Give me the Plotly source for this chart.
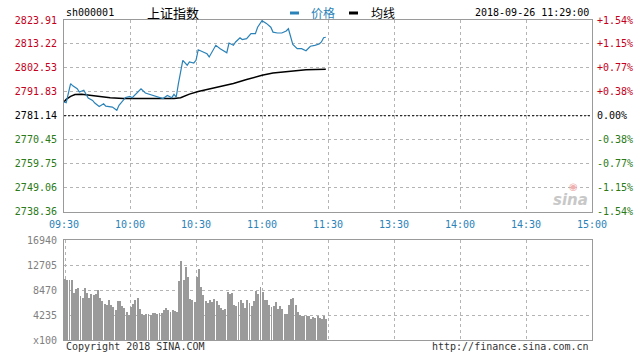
import plotly.graph_objects as go

# ---------------- data ----------------
prev_close = 2781.14

price_min = [0, 1, 3, 4, 6, 7, 9, 10, 11, 13, 14, 16, 18, 19, 22, 24, 25, 28, 30, 31,
             33, 35, 37, 39, 41, 44, 45, 47, 49, 50, 51, 52, 53, 54, 56, 57, 59, 60, 61, 63,
             65, 66, 68, 69, 71, 72, 74, 75, 77, 78, 80, 81, 83, 85, 87, 88, 90, 92, 94, 95,
             97, 99, 101, 102, 104, 106, 108, 110, 112, 114, 116, 117, 118, 119]
price_val = [2787.3, 2787.0, 2795.5, 2794.5, 2793.2, 2791.7, 2792.5, 2791.0, 2789.0, 2788.0,
             2786.8, 2785.3, 2786.5, 2785.4, 2785.0, 2783.6, 2785.8, 2789.3, 2789.8, 2789.2,
             2791.0, 2793.2, 2791.3, 2790.7, 2790.2, 2789.2, 2788.8, 2790.2, 2789.2, 2790.7,
             2789.5, 2795.5, 2801.4, 2805.9, 2803.7, 2805.2, 2804.7, 2805.9, 2810.6, 2809.6,
             2808.8, 2807.4, 2811.1, 2812.6, 2811.1, 2810.4, 2809.3, 2813.6, 2812.6, 2814.1,
             2816.0, 2815.2, 2815.6, 2817.8, 2817.8, 2820.7, 2823.6, 2822.4, 2820.7, 2818.5,
             2818.1, 2818.1, 2819.0, 2820.0, 2813.0, 2811.1, 2811.1, 2810.2, 2812.2, 2812.6,
             2813.2, 2814.1, 2816.0, 2816.2]

avg_min = [0, 1, 3, 5, 8, 13, 21, 27, 34, 43, 50, 53, 57, 61, 70, 77, 83, 90, 95, 103, 110, 119]
avg_val = [2787.3, 2788.5, 2789.8, 2790.6, 2790.7, 2790.1, 2789.2, 2788.8, 2788.8, 2788.6,
           2788.8, 2789.2, 2790.8, 2792.0, 2794.0, 2795.5, 2797.3, 2799.2, 2800.2, 2801.1,
           2801.7, 2801.9]

volume = [10400, 10200, 10100, 10200, 8000, 8600, 8800, 7400, 7200, 8800,
          8000, 7200, 7800, 7600, 7800, 8400, 7200, 6600, 6100, 5900,
          6800, 6000, 5600, 5000, 6600, 6600, 5800, 5500, 4700, 4300,
          5600, 6100, 6800, 7200, 5300, 4400, 4200, 4400, 4400, 4200,
          4600, 4500, 4400, 4600, 4500, 5100, 5500, 5000, 4800, 5100,
          4900, 4700, 10000, 13300, 10200, 12300, 10600, 7000, 6800, 6500,
          10600, 12000, 9000, 7700, 6600, 6200, 6700, 6400, 6900, 6600,
          6000, 5400, 5000, 5200, 8200, 7800, 7900, 6000, 5700, 6500,
          6800, 6300, 5400, 6800, 6300, 5700, 6600, 8300, 7800, 8900,
          8200, 6800, 6800, 6000, 5600, 5800, 6400, 5300, 5800, 5200,
          4400, 4400, 6000, 6900, 7100, 6000, 4700, 4200, 4100, 4100,
          4100, 4000, 3600, 3900, 3700, 4000, 3800, 3600, 4000, 3500]
vol_min = list(range(len(volume)))

price_ticks = [2738.36, 2749.06, 2759.75, 2770.45, 2781.14, 2791.83, 2802.53, 2813.22, 2823.91]
price_labels = ["2738.36", "2749.06", "2759.75", "2770.45", "2781.14", "2791.83", "2802.53", "2813.22", "2823.91"]
pct_labels = ["-1.54%", "-1.15%", "-0.77%", "-0.38%", "0.00%", "+0.38%", "+0.77%", "+1.15%", "+1.54%"]
time_ticks = [0, 30, 60, 90, 120, 150, 180, 210, 240]
time_labels = ["09:30", "10:00", "10:30", "11:00", "11:30", "13:30", "14:00", "14:30", "15:00"]
vol_ticks = [0, 4235, 8470, 12705, 16940]
vol_labels = ["x100", "4235", "8470", "12705", "16940"]

# ---------------- style ----------------
RED = "#c4001a"
GREEN = "#2a7a16"
BLUE = "#2a82b8"
GRID = "#b4b4b4"
FRAME = "#9a9a9a"
MONO = "DejaVu Sans Mono"
CJK = "Noto Sans CJK SC"

W, H = 644, 360
L, R, T, B = 64, 52, 20, 20
PW, PH = W - L - R, H - T - B


def px(x):
    return (x - L) / PW


def py(y):
    return (H - B - y) / PH


def colored(labels, ticks):
    out = []
    for lab, v in zip(labels, ticks):
        c = RED if v > prev_close + 1e-6 else (GREEN if v < prev_close - 1e-6 else "#000000")
        out.append(f'<span style="color:{c}">{lab}</span>')
    return out


top_bottom = py(211.5)
vol_top = py(240)

fig = go.Figure()

fig.add_trace(go.Bar(x=vol_min, y=volume, width=0.42, marker=dict(color="#9a9a9a", line=dict(width=0)),
                     xaxis="x2", yaxis="y2", showlegend=False, hoverinfo="skip"))
fig.add_trace(go.Scatter(x=avg_min, y=avg_val, mode="lines", line=dict(color="#000000", width=1.5),
                         name="均线", showlegend=False, xaxis="x", yaxis="y"))
fig.add_trace(go.Scatter(x=price_min, y=price_val, mode="lines", line=dict(color=BLUE, width=1.2),
                         name="价格", showlegend=False, xaxis="x", yaxis="y"))
fig.add_trace(go.Scatter(x=[0], y=[prev_close], mode="markers", marker=dict(opacity=0),
                         showlegend=False, hoverinfo="skip", xaxis="x", yaxis="y3"))

axis_font = dict(family=MONO, size=10)

fig.update_layout(
    width=W, height=H,
    margin=dict(l=L, r=R, t=T, b=B),
    paper_bgcolor="white", plot_bgcolor="white",
    bargap=0,
    xaxis=dict(domain=[0, 1], range=[0, 240], anchor="y", tickvals=time_ticks, ticktext=time_labels,
               tickfont=dict(family=MONO, size=10, color=BLUE), showgrid=True, gridcolor=GRID,
               griddash="dot", gridwidth=1, showline=True, mirror=True, linecolor=FRAME, linewidth=1,
               zeroline=False, ticks="", ticklabelstandoff=3),
    yaxis=dict(domain=[top_bottom, 1], range=[price_ticks[0], price_ticks[-1]], anchor="x",
               tickvals=price_ticks, ticktext=colored(price_labels, price_ticks), tickfont=axis_font,
               showgrid=True, gridcolor=GRID, griddash="dot", gridwidth=1, showline=True, mirror=True,
               linecolor=FRAME, linewidth=1, zeroline=False, ticks="", ticklabelstandoff=4),
    yaxis3=dict(overlaying="y", side="right", range=[price_ticks[0], price_ticks[-1]], anchor="x",
                tickvals=price_ticks, ticktext=colored(pct_labels, price_ticks), tickfont=axis_font,
                showgrid=False, showline=False, zeroline=False, ticks="", ticklabelstandoff=4),
    xaxis2=dict(domain=[0, 1], range=[-0.5, 240], anchor="y2", tickvals=time_ticks, showticklabels=False,
                showgrid=True, gridcolor=GRID, griddash="dot", gridwidth=1, showline=True, mirror=True,
                linecolor=FRAME, linewidth=1, zeroline=False, ticks=""),
    yaxis2=dict(domain=[0, vol_top], range=[0, vol_ticks[-1]], anchor="x2", tickvals=vol_ticks,
                ticktext=vol_labels, tickfont=dict(family=MONO, size=10, color="#808080"),
                showgrid=True, gridcolor=GRID, griddash="dot", gridwidth=1, showline=True, mirror=True,
                linecolor=FRAME, linewidth=1, zeroline=False, ticks="", ticklabelstandoff=4,
                layer="above traces"),
)

# previous close reference line
fig.add_shape(type="line", xref="x", yref="y", x0=0, x1=240, y0=prev_close, y1=prev_close,
              line=dict(color="#000000", width=1, dash="2px,2px"))

ann = []
ann.append(dict(text="sh000001", x=px(64), y=py(13), xanchor="left", yanchor="middle",
                font=dict(family=MONO, size=10, color="#000000")))
ann.append(dict(text="上证指数", x=px(145), y=py(12.5), xanchor="left", yanchor="middle",
                font=dict(family=CJK, size=13, color="#000000")))
ann.append(dict(text="价格", x=px(309), y=py(12.5), xanchor="left", yanchor="middle",
                font=dict(family=CJK, size=12, color=BLUE)))
ann.append(dict(text="均线", x=px(369), y=py(12.5), xanchor="left", yanchor="middle",
                font=dict(family=CJK, size=12, color="#000000")))
ann.append(dict(text="2018-09-26 11:29:00", x=px(591), y=py(13), xanchor="right", yanchor="middle",
                font=dict(family=MONO, size=10, color="#000000")))
ann.append(dict(text="Copyright 2018 SINA.COM", x=px(64), y=py(346), xanchor="left", yanchor="middle",
                font=dict(family=MONO, size=10, color="#333333")))
ann.append(dict(text="http://finance.sina.com.cn", x=px(591), y=py(346), xanchor="right", yanchor="middle",
                font=dict(family=MONO, size=10, color="#333333")))
ann.append(dict(text="<i><b>sina</b></i>", x=px(590), y=py(200), xanchor="right", yanchor="middle",
                font=dict(family="DejaVu Sans", size=15, color="#c8c8c8")))
ann.append(dict(text="◉", x=px(573), y=py(186), xanchor="center", yanchor="middle",
                font=dict(family="DejaVu Sans", size=10, color="#f0b0b0")))
for a in ann:
    a.update(xref="paper", yref="paper", showarrow=False)
fig.update_layout(annotations=ann)

# legend dashes
fig.add_shape(type="line", xref="paper", yref="paper", x0=px(290), x1=px(299), y0=py(13), y1=py(13),
              line=dict(color=BLUE, width=3))
fig.add_shape(type="line", xref="paper", yref="paper", x0=px(349), x1=px(358), y0=py(13), y1=py(13),
              line=dict(color="#000000", width=3))

fig.write_html("out.html")
